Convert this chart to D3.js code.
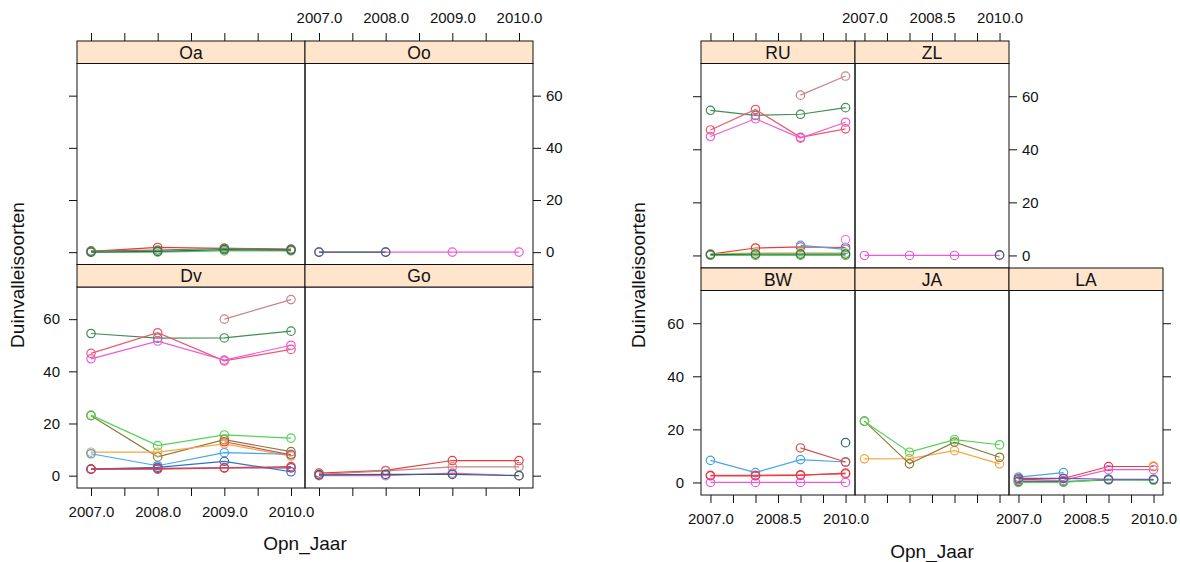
<!DOCTYPE html>
<html>
<head>
<meta charset="utf-8">
<script src="https://cdn.jsdelivr.net/npm/d3@7"></script>
<style>
body{margin:0;background:#fff;}
text{font-family:"Liberation Sans",Arial,sans-serif;fill:#111;}
</style>
</head>
<body>
<svg id="chart" width="1180" height="562"></svg>
<script>
// ---- data ----
const years=[2007,2008,2009,2010];
const yTicks=[0,20,40,60];
const leftTickLabels=[2007,2008,2009,2010];
const rightTickLabels=[2007,2008.5,2010];
const groups=["g1","g2","g3","g4","g5","g6","g7","g8","g9","g10","g11","g12","g13","g14","g15"];

const oaGroups=["g11","g5","g6","g12"];
const oaValues=[[0.3,1.8,1.5,1.2],[0.5,0.8,1.5,1.0],[0,0,0.5,0.5],[0,0.3,1,0.8]];
const ooGroups=["g4","g12"];
const ooValues=[[0,0,0,0],[0,0,null,null]];
const dvGroups=["g1","g2","g3","g4","g5","g6","g7","g8","g9","g10","g11","g15"];
const dvValues=[
  [null,null,60,67.5],[54.5,52.7,52.8,55.4],[46.9,54.8,44,48.4],[44.8,51.6,44.3,50],
  [23,7.2,13.8,9.2],[23.2,11.5,15.6,14.4],[9,9,12.2,7.5],[8.4,3.8,8.8,8.2],
  [2.5,3.2,5.5,1.5],[2.5,2.8,3,3],[2.5,2.5,3,3.5],[null,null,13,8]];
const goGroups=["g11","g1","g4","g12"];
const goValues=[[1,2,5.8,5.8],[0.5,1.8,3.4,3.4],[0,0,1,0],[0.3,0.5,0.5,0]];

const ruGroups=["g1","g2","g3","g4","g11","g8","g6","g13","g14","g12"];
const ruValues=[
  [null,null,60.4,67.6],[54.7,52.8,53.2,55.7],[47.3,55,44.5,47.7],[44.8,51.5,44.2,50.2],
  [0.5,2.8,3.2,3],[null,null,3.8,2.3],[0,0,0,0],[0.5,1,1,1],[null,null,null,6],[0.3,0.5,0.5,0.5]];
const zlGroups=["g4","g12"];
const zlValues=[[0,0,0,0],[null,null,null,0.2]];
const bwGroups=["g8","g15","g12","g3","g11","g4"];
const bwValues=[[8.3,3.7,8.6,7.7],[null,null,13,7.7],[null,null,null,15],[2.7,2.7,2.9,3.2],[2.5,2.5,2.7,3.5],[0,0,0,0]];
const jaGroups=["g7","g5","g6"];
const jaValues=[[8.9,9,12,7],[23.1,7,15.2,9.5],[23,11.4,16.1,14.2]];
const laGroups=["g8","g11","g4","g7","g12","g6","g10"];
const laValues=[[2,3.7,null,null],[1,1.5,6,6],[0.5,0.8,4.8,4.8],[null,null,null,6.2],[0.3,0.3,1,1],[0,0,1.2,0.8],[1.5,1.5,1.2,1.2]];

// ---- styles ----
const palette=["#c98383","#3f8f55","#f0566e","#ee5ad6","#8a7b3d","#55d255","#f4a844","#48a4ea",
  "#3470c4","#6c52a4","#e63c3c","#2f6a6a","#e2c84c","#f27ae6","#d2524a"];
const colour=d3.scaleOrdinal().domain(groups).range(palette);

const svg=d3.select('#chart');

// shared scales domains (lattice style 7% padding)
const allVals=[oaValues,ooValues,dvValues,goValues,ruValues,zlValues,bwValues,jaValues,laValues].flat(2).filter(v=>v!=null);
const yExt=d3.extent(allVals);
const yPad=0.07*(yExt[1]-yExt[0]);
const yDom=[yExt[0]-yPad,yExt[1]+yPad];
const xExt=d3.extent(years);
const xPad=0.07*(xExt[1]-xExt[0]);
const xDom=[xExt[0]-xPad,xExt[1]+xPad];
const xTickVals=d3.range(2007,2010.01,0.5);

function drawPlot(cfg){
  const x=d3.scaleLinear().domain(xDom).range([0,cfg.colW]);
  const y=d3.scaleLinear().domain(yDom).range([cfg.panelH,0]);
  const line=d3.line().defined(d=>d.v!=null).x(d=>x(d.yr)).y(d=>y(d.v));
  const fmt=d=>cfg.xLabels.includes(d)?d3.format('.1f')(d):'';

  cfg.panels.forEach(p=>{
    const px=cfg.left+p.col*cfg.colW;
    const sy=cfg.top+p.row*(cfg.stripH+cfg.panelH);
    const py=sy+cfg.stripH;
    const g=svg.append('g').attr('transform','translate('+px+','+py+')');

    p.groups.forEach((gr,i)=>{
      const pts=years.map((yr,j)=>({yr:yr,v:p.values[i][j]}));
      g.append('path').datum(pts).attr('d',line)
        .attr('fill','none').attr('stroke',colour(gr)).attr('stroke-width',1.2);
      g.selectAll(null).data(pts.filter(d=>d.v!=null)).join('circle')
        .attr('cx',d=>x(d.yr)).attr('cy',d=>y(d.v)).attr('r',4.2)
        .attr('fill','none').attr('stroke',colour(gr)).attr('stroke-width',1.2);
    });

    g.append('rect').attr('width',cfg.colW).attr('height',cfg.panelH)
      .attr('fill','none').attr('stroke','#111').attr('stroke-width',1);

    const s=svg.append('g').attr('transform','translate('+px+','+sy+')');
    s.append('rect').attr('width',cfg.colW).attr('height',cfg.stripH)
      .attr('fill','#ffe5cc').attr('stroke','#111').attr('stroke-width',1);
    s.append('text').attr('x',cfg.colW/2).attr('y',cfg.stripH/2+6.5)
      .attr('text-anchor','middle').style('font-size','17.5px').text(p.name);

    const ax=p.axes;
    if(ax.top){
      s.append('g').call(d3.axisTop(x).tickValues(xTickVals).tickSize(8).tickPadding(10)
        .tickFormat(ax.top==='lab'?fmt:()=>''));
    }
    if(ax.bottom){
      g.append('g').attr('transform','translate(0,'+cfg.panelH+')')
        .call(d3.axisBottom(x).tickValues(xTickVals).tickSize(8).tickPadding(10)
        .tickFormat(ax.bottom==='lab'?fmt:()=>''));
    }
    if(ax.left){
      g.append('g').call(d3.axisLeft(y).tickValues(yTicks).tickSize(8).tickPadding(9)
        .tickFormat(ax.left==='lab'?d3.format('d'):()=>''));
    }
    if(ax.right){
      g.append('g').attr('transform','translate('+cfg.colW+',0)')
        .call(d3.axisRight(y).tickValues(yTicks).tickSize(8).tickPadding(5)
        .tickFormat(ax.right==='lab'?d3.format('d'):()=>''));
    }
  });

  svg.selectAll('.domain').remove();
  svg.selectAll('.tick line').attr('stroke','#111');
  svg.selectAll('.tick text').style('font-size','15px').attr('fill','#111')
    .style('font-family','"Liberation Sans",Arial,sans-serif');

  svg.append('text').attr('x',cfg.left+cfg.cols*cfg.colW/2).attr('y',cfg.xTitleY)
    .attr('text-anchor','middle').style('font-size','19px').text('Opn_Jaar');
  svg.append('text').attr('transform','translate('+cfg.yTitleX+','+cfg.yTitleY+') rotate(-90)')
    .attr('text-anchor','middle').style('font-size','19px').text('Duinvalleisoorten');
}

drawPlot({
  left:77,top:41,colW:228,stripH:22.5,panelH:201,cols:2,
  xLabels:leftTickLabels,xTitleY:550,yTitleX:24,yTitleY:275,
  panels:[
    {name:"Oa",col:0,row:0,groups:oaGroups,values:oaValues,axes:{top:'tick',left:'tick'}},
    {name:"Oo",col:1,row:0,groups:ooGroups,values:ooValues,axes:{top:'lab',right:'lab'}},
    {name:"Dv",col:0,row:1,groups:dvGroups,values:dvValues,axes:{bottom:'lab',left:'lab'}},
    {name:"Go",col:1,row:1,groups:goGroups,values:goValues,axes:{bottom:'tick',right:'tick'}}
  ]
});

drawPlot({
  left:701,top:41,colW:154,stripH:22.5,panelH:204.5,cols:3,
  xLabels:rightTickLabels,xTitleY:558,yTitleX:645,yTitleY:275,
  panels:[
    {name:"RU",col:0,row:0,groups:ruGroups,values:ruValues,axes:{top:'tick',left:'tick'}},
    {name:"ZL",col:1,row:0,groups:zlGroups,values:zlValues,axes:{top:'lab',right:'lab'}},
    {name:"BW",col:0,row:1,groups:bwGroups,values:bwValues,axes:{bottom:'lab',left:'lab'}},
    {name:"JA",col:1,row:1,groups:jaGroups,values:jaValues,axes:{bottom:'tick'}},
    {name:"LA",col:2,row:1,groups:laGroups,values:laValues,axes:{bottom:'lab',right:'tick'}}
  ]
});
</script>
</body>
</html>
